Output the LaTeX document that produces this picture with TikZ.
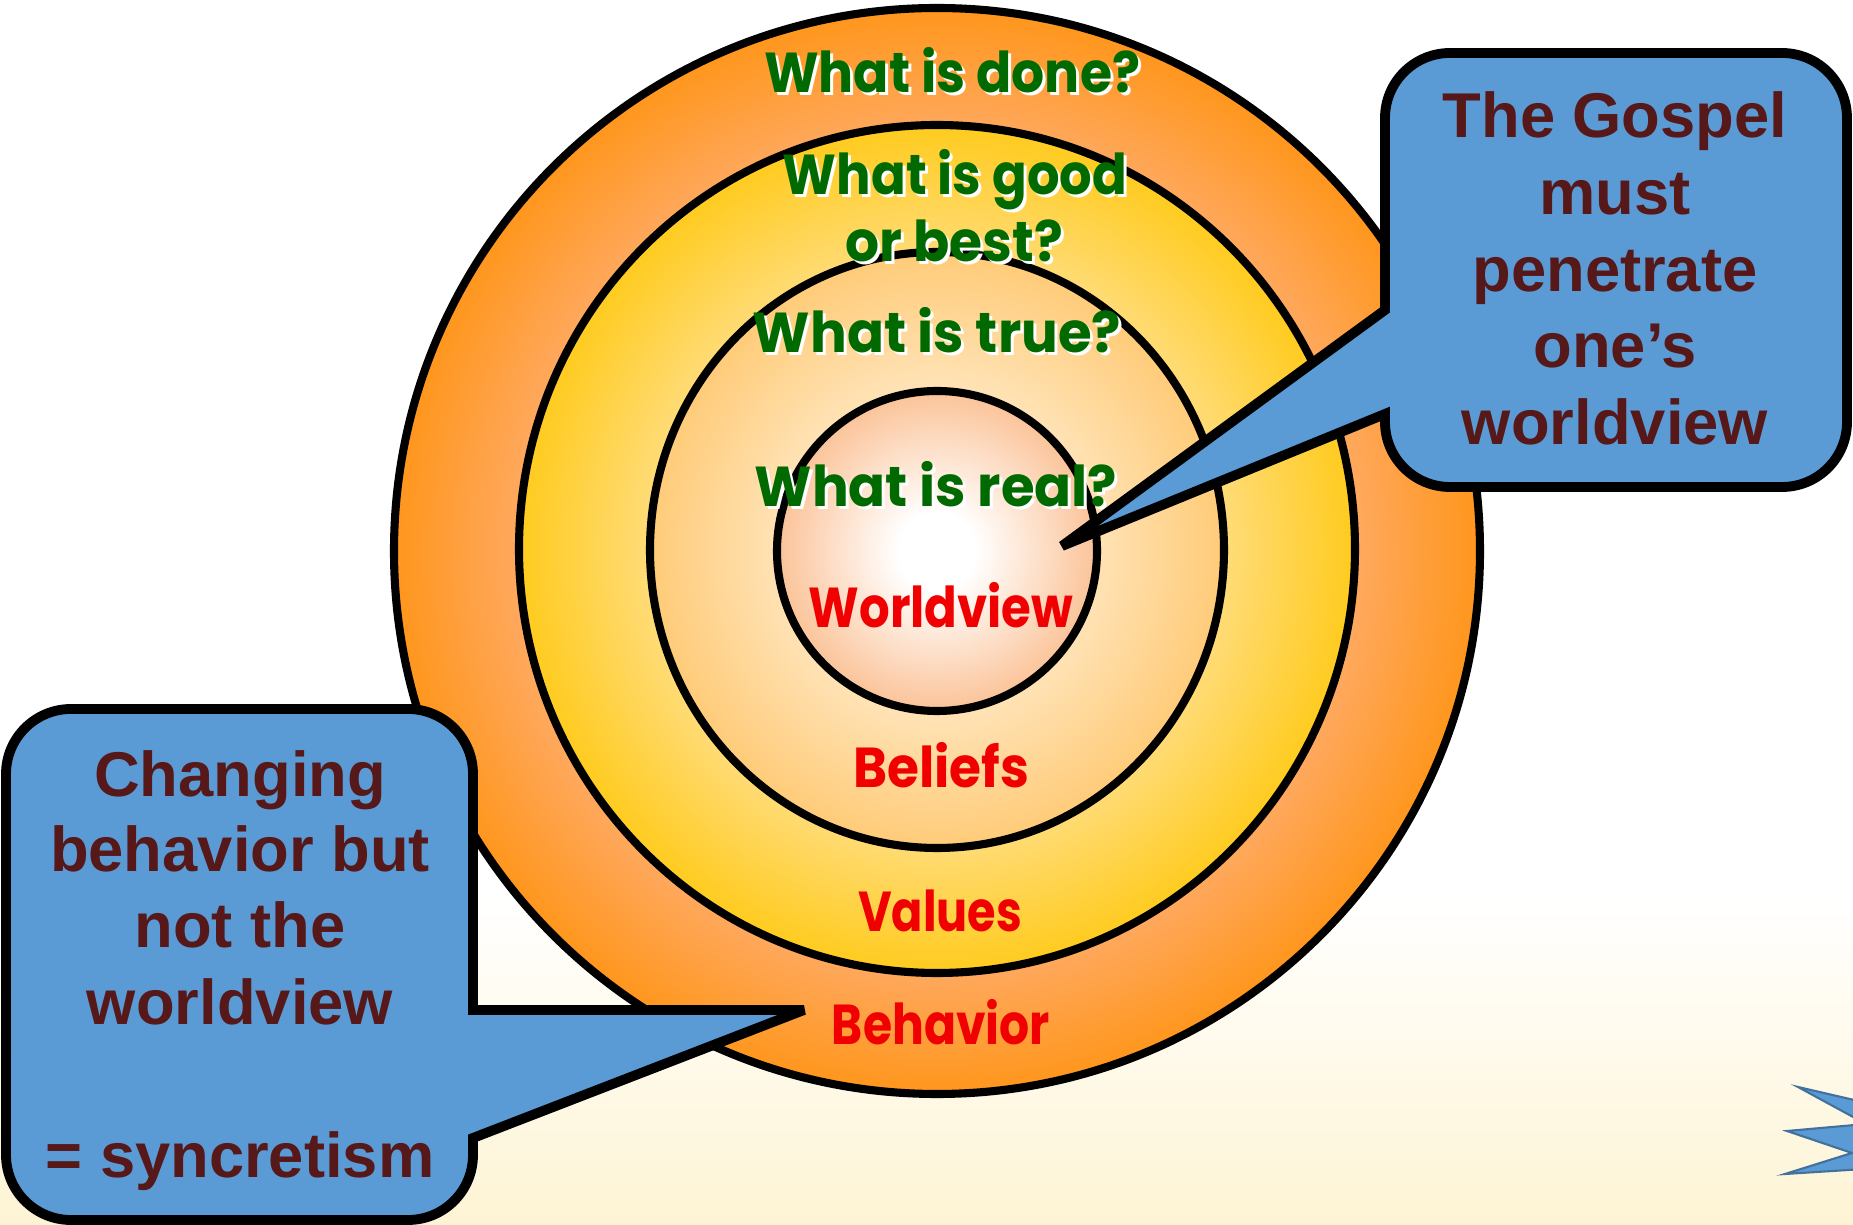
\documentclass[tikz,border=0pt]{standalone}
\usepackage{fontspec}
\setmainfont{Liberation Sans}
\newfontfamily\comicf{Poppins}
\definecolor{boxblue}{HTML}{5B9BD5}
\definecolor{starline}{HTML}{41719C}
\definecolor{maroon}{HTML}{561818}
\definecolor{qgreen}{HTML}{006A00}
\definecolor{lred}{HTML}{F00000}
\definecolor{oA}{HTML}{FF961C}
\definecolor{oB}{HTML}{FFAA62}
\definecolor{yA}{HTML}{FFCB1E}
\definecolor{yB}{HTML}{FFDC7A}
\definecolor{tA}{HTML}{FFCB78}
\definecolor{tB}{HTML}{FFE2B4}
\definecolor{pA}{HTML}{FBC398}
\definecolor{cream}{HTML}{FEF4D4}
\pgfdeclareradialshading{shOuter}{\pgfpointorigin}{color(0bp)=(oB); color(19bp)=(oB); color(25bp)=(oA); color(50bp)=(oA)}
\pgfdeclareradialshading{shSecond}{\pgfpointorigin}{color(0bp)=(white); color(17bp)=(yB); color(25bp)=(yA); color(50bp)=(yA)}
\pgfdeclareradialshading{shThird}{\pgfpointorigin}{color(0bp)=(white); color(14bp)=(tB); color(25bp)=(tA); color(50bp)=(tA)}
\pgfdeclareradialshading{shInner}{\pgfpointorigin}{color(0bp)=(white); color(6bp)=(white); color(25bp)=(pA); color(50bp)=(pA)}
\tikzset{
  ring/.style={draw=black, line width=2.3pt},
  callout/.style={draw=black, fill=boxblue, line width=2.8pt, line join=miter, miter limit=4},
  ctext/.style={text=maroon, inner sep=0pt, anchor=base, font=\bfseries\fontsize{18}{21.9}\selectfont},
  qtext/.style={inner sep=0pt, anchor=base, font=\comicf\bfseries\fontsize{16}{19}\selectfont},
  rtext/.style={qtext, text=lred},
}
\newcommand{\greenq}[5]{%
  \node[qtext, text=white] (#1s) at (#2+3,#3+3) {\scalebox{#4}[1]{#5}};
  \node[qtext, text=qgreen] (#1) at (#2,#3) {\scalebox{#4}[1]{#5}};}
\begin{document}
\begin{tikzpicture}[x=0.01cm, y=-0.01cm]
\useasboundingbox (0,0) rectangle (1853,1225);
\clip (0,0) rectangle (1853,1225);
% background
\fill[white] (0,0) rectangle (1853,1225);
\shade[top color=white, bottom color=cream] (0,900) rectangle (1853,1226);
% circles
\shadedraw[ring, shading=shOuter] (937,551) ellipse [x radius=543, y radius=543];
\shadedraw[ring, shading=shSecond] (937,549) ellipse [x radius=418, y radius=424];
\shadedraw[ring, shading=shThird] (937,550) ellipse [x radius=287, y radius=298];
\shadedraw[ring, shading=shInner] (937,551) ellipse [x radius=160, y radius=160];
% green questions
\greenq{qdone}{952}{93}{0.924}{What is done?}
\greenq{qgood}{955}{195}{0.91}{What is good}
\greenq{qbest}{954}{262}{0.95}{or best?}
\greenq{qtrue}{937}{353}{0.97}{What is true?}
\greenq{qreal}{936}{507}{0.97}{What is real?}
% red labels
\node[rtext] (lworld) at (941,628) {\scalebox{0.856}[1]{Worldview}};
\node[rtext] (lbel) at (941,788) {\scalebox{0.92}[1]{Beliefs}};
\node[rtext] (lval) at (940,932) {\scalebox{0.82}[1]{Values}};
\node[rtext] (lbeh) at (941,1045) {\scalebox{0.84}[1]{Behavior}};
% star (partly outside)
\fill[boxblue, draw=starline, line width=0.6pt, line join=miter] (1880,1106) -- (1798,1087) -- (1866,1124) -- (1787,1131) -- (1852,1153) -- (1785,1174) -- (1880,1168) -- cycle;
% right callout
\coordinate (tipR) at (1062,546);
\draw[callout] (1385,310) -- (1385,118) arc[start angle=180,end angle=270,radius=65]
  -- (1782,53) arc[start angle=270,end angle=360,radius=65]
  -- (1847,422) arc[start angle=0,end angle=90,radius=65]
  -- (1450,487) arc[start angle=90,end angle=180,radius=65]
  -- (1385,414) -- (tipR) -- cycle;
\node[ctext] (r1) at (1615,138) {The Gospel};
\node[ctext] (r2) at (1615,215) {must};
\node[ctext] (r3) at (1615,292) {penetrate};
\node[ctext] (r4) at (1615,368) {one’s};
\node[ctext] (r5) at (1615,445) {worldview};
% left callout
\coordinate (tipL) at (804,1010);
\draw[callout] (473,1010) -- (tipL) -- (473,1138) -- (473,1155) arc[start angle=0,end angle=90,radius=65]
  -- (71,1220) arc[start angle=90,end angle=180,radius=65]
  -- (6,774) arc[start angle=180,end angle=270,radius=65]
  -- (408,709) arc[start angle=270,end angle=360,radius=65] -- cycle;
\node[ctext] (l1) at (240,797) {Changing};
\node[ctext] (l2) at (240,872) {behavior but};
\node[ctext] (l3) at (240,948) {not the};
\node[ctext] (l4) at (240,1025) {worldview};
\node[ctext] (l5) at (240,1178) {= syncretism};
\end{tikzpicture}
\end{document}
